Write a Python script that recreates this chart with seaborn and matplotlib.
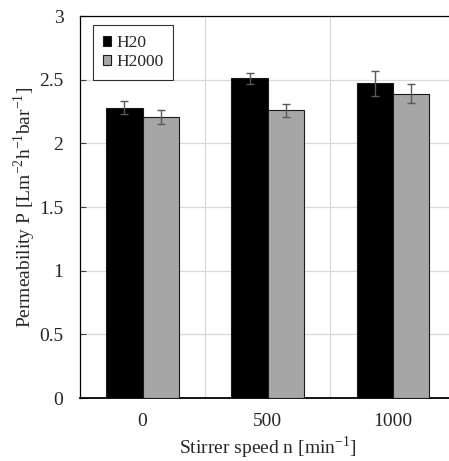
import matplotlib
matplotlib.use("Agg")
import matplotlib.pyplot as plt
import seaborn as sns
import pandas as pd
import numpy as np
from matplotlib.ticker import FixedLocator

speeds = ["0", "500", "1000"]
h20_vals = [2.28, 2.51, 2.47]
h20_err = [0.05, 0.045, 0.095]
h2000_vals = [2.21, 2.26, 2.39]
h2000_err = [0.055, 0.05, 0.075]
series = ["H20", "H2000"]
yticks = [0, 0.5, 1, 1.5, 2, 2.5, 3]
ytick_labels = ["0", "0.5", "1", "1.5", "2", "2.5", "3"]

df = pd.DataFrame({
    "speed": speeds * 2,
    "P": h20_vals + h2000_vals,
    "err": h20_err + h2000_err,
    "series": [series[0]] * 3 + [series[1]] * 3,
})

sns.set_style("white")
plt.rcParams["font.family"] = ["Liberation Serif", "DejaVu Serif"]
plt.rcParams["mathtext.fontset"] = "custom"
plt.rcParams["mathtext.rm"] = "Liberation Serif"

fig = plt.figure(figsize=(4.49, 4.61), dpi=100)
ax = fig.add_axes([80 / 449, 1 - 398 / 461, 375.5 / 449, 382 / 461])

palette = {"H20": "#000000", "H2000": "#a6a6a6"}
sns.barplot(data=df, x="speed", y="P", hue="series", order=speeds,
            hue_order=series, palette=palette, width=0.58, errorbar=None,
            edgecolor="#1a1a1a", linewidth=0.8, ax=ax, zorder=3)

# error bars placed on each bar
for cont, errs in zip(ax.containers, [h20_err, h2000_err]):
    xs = [p.get_x() + p.get_width() / 2 for p in cont.patches]
    hs = [p.get_height() for p in cont.patches]
    ax.errorbar(xs, hs, yerr=errs, fmt="none", ecolor="#595959",
                elinewidth=1.0, capsize=2.8, capthick=1.0, zorder=4)

ax.set_ylim(0, 3)
ax.set_xlim(-0.5, 2.5)
ax.set_yticks(yticks)
ax.set_yticklabels(ytick_labels)
ax.xaxis.set_minor_locator(FixedLocator([0.5, 1.5]))
ax.grid(axis="y", which="major", color="#d9d9d9", linewidth=0.9, zorder=0)
ax.grid(axis="x", which="minor", color="#d9d9d9", linewidth=0.9, zorder=0)
ax.set_axisbelow(True)

for s in ["left", "top", "right"]:
    ax.spines[s].set_color("#000000")
    ax.spines[s].set_linewidth(0.9)
ax.spines["bottom"].set_color("#000000")
ax.spines["bottom"].set_linewidth(1.3)

ax.tick_params(axis="y", which="major", direction="in", length=4, width=0.8,
               color="#404040", labelsize=14, pad=12, left=True)
ax.tick_params(axis="x", which="both", length=0, labelsize=14, pad=11)

ax.set_xlabel("Stirrer speed n [min$^{-1}$]", fontsize=14, labelpad=3)
ax.set_ylabel("Permeability P [Lm$^{-2}$h$^{-1}$bar$^{-1}$]", fontsize=14,
              labelpad=1)

leg = ax.legend(loc="upper left", bbox_to_anchor=(0.035, 0.976), frameon=True,
                fancybox=False, edgecolor="#000000", fontsize=12.5,
                handlelength=0.5, handleheight=0.5, handletextpad=0.3,
                borderpad=0.55, labelspacing=0.2, borderaxespad=0)
leg.get_frame().set_linewidth(0.8)

fig.savefig("out.png", dpi=100)
